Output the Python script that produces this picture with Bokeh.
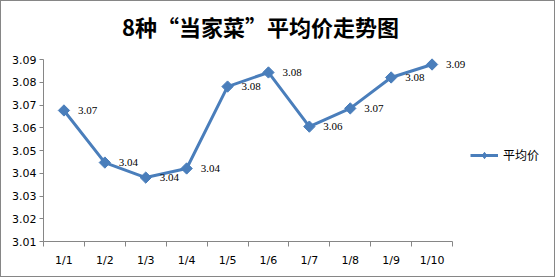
import math
from bokeh.plotting import figure
from bokeh.models import (ColumnDataSource, LabelSet, Label, FixedTicker, Legend, LegendItem, Range1d)
from bokeh.layouts import column
from bokeh.embed import file_html
from bokeh.resources import INLINE

title_text = "8种“当家菜”平均价走势图"
series_name = "平均价"
dates = ["1/1", "1/2", "1/3", "1/4", "1/5", "1/6", "1/7", "1/8", "1/9", "1/10"]
prices = [3.0676, 3.0447, 3.0381, 3.0421, 3.0781, 3.0843, 3.0605, 3.0685, 3.0821, 3.0878]
y_ticks = [3.01, 3.02, 3.03, 3.04, 3.05, 3.06, 3.07, 3.08, 3.09]

color = "#4a7ebb"
axis_color = "#868686"
num_font = "DejaVu Sans"
num_size = "11px"
cjk_font = "Noto Sans CJK SC"

# ---- layout in canvas pixels (figure is 553x275 inside a 1px border) ----
W, H = 553, 275
frame_l, frame_r, frame_t, frame_b = 42, 552, 1, 240
axis_x_end_px = 451        # pixel where the category axis ends
axis_y_top_px = 58         # pixel of the top y tick

ncat = len(dates)
px_per_x = (axis_x_end_px - frame_l) / ncat
px_per_y = (frame_b - axis_y_top_px) / (y_ticks[-1] - y_ticks[0])
x_start = 0.5
x_end = x_start + (frame_r - frame_l) / px_per_x
y_start = y_ticks[0]
y_end = y_start + (frame_b - frame_t) / px_per_y

def dx(px):
    return x_start + (px - frame_l) / px_per_x

def dy(py):
    return y_start + (frame_b - py) / px_per_y

xs = list(range(1, ncat + 1))
src = ColumnDataSource(dict(x=xs, y=prices, lbl=["%.2f" % v for v in prices]))

p = figure(width=W, height=H, output_backend="svg", toolbar_location=None,
           x_range=Range1d(x_start, x_end), y_range=Range1d(y_start, y_end),
           min_border_left=frame_l, min_border_right=W - frame_r,
           min_border_top=frame_t, min_border_bottom=H - frame_b)
p.outline_line_color = None
p.grid.visible = False

# axes
p.xaxis.bounds = (0.5, ncat + 0.5)
p.xaxis.ticker = FixedTicker(ticks=xs, minor_ticks=[i + 0.5 for i in range(0, ncat + 1)])
p.xaxis.major_label_overrides = {i: d for i, d in zip(xs, dates)}
p.xaxis.major_tick_line_color = None
p.xaxis.minor_tick_line_color = axis_color
p.xaxis.minor_tick_out = 5
p.xaxis.minor_tick_in = 0
p.xaxis.axis_line_color = axis_color
p.xaxis.major_label_text_font = num_font
p.xaxis.major_label_text_font_size = num_size
p.xaxis.major_label_text_color = "black"
p.xaxis.major_label_standoff = 6

p.yaxis.bounds = (y_ticks[0], y_ticks[-1])
p.yaxis.ticker = FixedTicker(ticks=y_ticks, minor_ticks=[])
p.yaxis.major_label_overrides = {t: "%.2f" % t for t in y_ticks}
p.yaxis.axis_line_color = axis_color
p.yaxis.major_tick_line_color = axis_color
p.yaxis.major_tick_out = 4
p.yaxis.major_tick_in = 0
p.yaxis.minor_tick_line_color = None
p.yaxis.major_label_text_font = num_font
p.yaxis.major_label_text_font_size = num_size
p.yaxis.major_label_text_color = "black"
p.yaxis.major_label_standoff = 3

line = p.line("x", "y", source=src, line_color=color, line_width=3)
pts = p.scatter("x", "y", source=src, marker="square", angle=math.pi / 4, size=8,
                fill_color=color, line_color=color)

# legend-only glyph (rotated squares are not rotated in legends); NaN position => not drawn in plot
leg_src = ColumnDataSource(dict(x=[float("nan")], y=[float("nan")]))
leg_marker = p.scatter("x", "y", source=leg_src, marker="diamond", size=11,
                       fill_color=color, line_color=color)

labels = LabelSet(x="x", y="y", text="lbl", source=src, x_offset=14, y_offset=0,
                  text_baseline="middle", text_font=num_font, text_font_size=num_size,
                  text_color="black")
p.add_layout(labels)

legend = Legend(items=[LegendItem(label=series_name, renderers=[line, leg_marker])],
                location=(469 - frame_l, frame_b - 154 - 8), glyph_width=28, glyph_height=16,
                label_standoff=5, label_text_font=cjk_font, label_text_font_size="12px",
                label_text_color="black",
                padding=0, margin=0, border_line_color=None, background_fill_alpha=0)
p.add_layout(legend, "center")

title = Label(x=dx(259), y=dy(24), text=title_text, text_color="black",
              text_font=cjk_font, text_font_size="22px", text_font_style="bold",
              text_align="center", text_baseline="middle")
p.add_layout(title)

layout = column(p, styles={"border": "1px solid #868686"})
open("out.html", "w").write(file_html(layout, INLINE))
